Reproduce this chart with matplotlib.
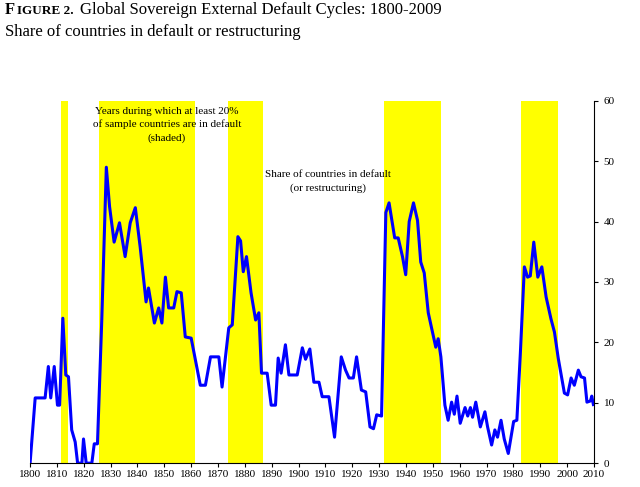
import matplotlib
matplotlib.use("Agg")
import matplotlib.pyplot as plt

plt.rcParams['font.family'] = ['Liberation Serif', 'DejaVu Serif']

# shaded periods (>= 20% of countries in default)
bands = [(1811.6, 1814.2), (1825.7, 1861.6), (1873.9, 1886.6), (1931.7, 1953.0), (1982.8, 1996.6)]

years = [1800, 1801.9, 1805.6, 1806.8, 1807.7, 1809, 1810.2, 1811, 1812.2, 1813.3, 1814.3,
         1815.5, 1816.8, 1817.7, 1819.3, 1819.9, 1820.9, 1823, 1823.9, 1825.1, 1826.7, 1828.4,
         1829.6, 1831.3, 1833.3, 1835.4, 1837.3, 1839.2, 1841, 1843.2, 1844.1, 1846.3, 1847.9,
         1849.1, 1850.4, 1851.6, 1853.5, 1854.7, 1856.3, 1857.8, 1860, 1863.4, 1865.3, 1867.2,
         1870.3, 1871.5, 1874, 1875.3, 1877.4, 1878.4, 1879.4, 1880.6, 1882.3, 1884, 1885.2,
         1886.2, 1888.3, 1889.8, 1891.4, 1892.4, 1893.5, 1895.1, 1896.4, 1899.5, 1901.4, 1902.6,
         1904.2, 1905.7, 1907.6, 1908.8, 1911.3, 1913.4, 1915, 1915.9, 1917.5, 1918.8, 1920.4,
         1921.6, 1923.4, 1925, 1926.6, 1927.9, 1929.1, 1930.9, 1932.5, 1933.7, 1935.8, 1937.1,
         1938.7, 1939.9, 1941.2, 1942.8, 1944.3, 1945.5, 1946.8, 1948.3, 1951.1, 1952, 1953,
         1954.5, 1955.7, 1957, 1958, 1959, 1960.2, 1962, 1963, 1964, 1964.8, 1966, 1967.7,
         1969.4, 1970.4, 1971.9, 1973.1, 1974.1, 1975.4, 1976.6, 1978.1, 1980.1, 1981.3, 1982.6,
         1984.1, 1985.3, 1986.3, 1987.6, 1989.1, 1990.6, 1992.2, 1994, 1995.3, 1996.7, 1999,
         2000.2, 2001.5, 2002.7, 2004.2, 2005.2, 2006.5, 2007.4, 2008.7, 2009.2, 2009.8]
share = [0, 10.8, 10.8, 16, 10.8, 16, 9.6, 9.6, 24, 14.6, 14.3,
         5.5, 3.5, 0, 0, 4, 0, 0, 3.2, 3.2, 23.7, 49,
         42.5, 36.6, 39.8, 34.2, 39.8, 42.3, 35.8, 26.7, 29, 23.2, 25.7,
         23.2, 30.8, 25.7, 25.7, 28.4, 28.2, 20.9, 20.7, 12.9, 12.9, 17.6,
         17.6, 12.6, 22.4, 22.9, 37.5, 36.8, 31.7, 34.2, 28.2, 23.7, 24.9,
         14.9, 14.9, 9.6, 9.6, 17.4, 14.9, 19.6, 14.6, 14.6, 19.1, 17.2,
         18.9, 13.4, 13.4, 11, 11, 4.3, 12.9, 17.6, 15.4, 14.1, 14.1,
         17.6, 12.1, 11.8, 6, 5.7, 8, 7.8, 41.5, 43.1, 37.3, 37.3,
         34.2, 31.2, 40, 43.1, 40.2, 33.3, 31.5, 24.9, 19.2, 20.6, 17.6,
         9.6, 7.1, 10.1, 8.1, 11.1, 6.6, 9.2, 7.8, 9.2, 7.6, 10.1, 6,
         8.5, 6, 3, 5.5, 4.3, 7.1, 4, 1.6, 6.9, 7.1, 18.2,
         32.5, 30.8, 31, 36.6, 30.8, 32.5, 27.5, 23.9, 21.7, 17.4, 11.6,
         11.3, 14.1, 12.9, 15.4, 14.3, 14.1, 10.1, 10.3, 11.1, 9.7]

fig = plt.figure(figsize=(6.4, 4.87), dpi=100)
ax = fig.add_axes([0.047, 0.049, 0.881, 0.744])

for a, b in bands:
    ax.axvspan(a, b, color='#ffff00', lw=0)
ax.plot(years, share, color='#0000ff', lw=2.2)

ax.set_xlim(1800, 2010)
ax.set_ylim(0, 60)
ax.set_xticks(range(1800, 2011, 10))
ax.set_yticks(range(0, 61, 10))
ax.yaxis.tick_right()
for s in ['top', 'left']:
    ax.spines[s].set_visible(False)
ax.tick_params(labelsize=8, length=3, pad=2)
ax.tick_params(axis='y', pad=4)

ax.text(1851, 59, "Years during which at least 20%\nof sample countries are in default\n(shaded)",
        ha='center', va='top', fontsize=8, linespacing=1.5)
ax.text(1911, 48.5, "Share of countries in default\n(or restructuring)",
        ha='center', va='top', fontsize=8, linespacing=1.5)

fig.text(0.008, 0.972, "F", fontsize=12, va='baseline', weight='bold')
fig.text(0.027, 0.972, "IGURE 2.", fontsize=9.5, va='baseline', weight='bold')
fig.text(0.125, 0.972, "Global Sovereign External Default Cycles: 1800-2009", fontsize=12, va='baseline')
fig.text(0.008, 0.927, "Share of countries in default or restructuring", fontsize=12, va='baseline')

fig.savefig("out.png", dpi=100)
